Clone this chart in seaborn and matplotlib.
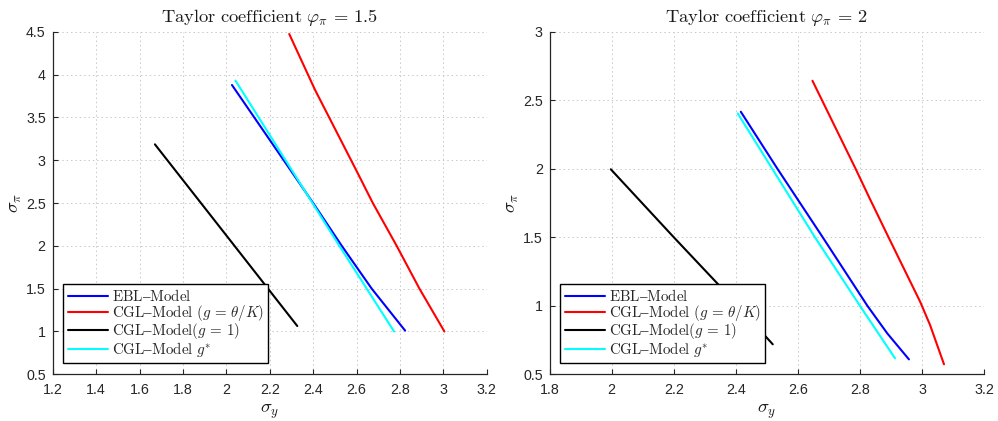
import numpy as np
import pandas as pd
import matplotlib
matplotlib.use("Agg")
import matplotlib.pyplot as plt
import seaborn as sns
from matplotlib.ticker import FuncFormatter, MultipleLocator

sns.set_theme(style="white")
plt.rcParams["font.family"] = ["Liberation Sans", "DejaVu Sans"]
plt.rcParams["mathtext.fontset"] = "cm"

# ---------------- data ----------------
series_names = [r"$\mathrm{EBL{–}Model}$",
                r"$\mathrm{CGL{–}Model}\ (g\,=\,\theta/K)$",
                r"$\mathrm{CGL{–}Model}(g\,=\,1)$",
                r"$\mathrm{CGL{–}Model}\ g^{*}$"]
series_colors = ["#0000ff", "#ff0000", "#000000", "#00ffff"]

# Panel 1: Taylor coefficient 1.5
p1_ebl_x = [2.026, 2.400, 2.532, 2.670, 2.824]
p1_ebl_y = [3.878, 2.500, 2.000, 1.500, 1.010]
p1_cgl_theta_x = [2.290, 2.409, 2.598, 2.675, 2.785, 2.890, 3.005]
p1_cgl_theta_y = [4.473, 3.820, 2.886, 2.500, 2.000, 1.500, 1.000]
p1_cgl_one_x = [1.671, 2.000, 2.327]
p1_cgl_one_y = [3.185, 2.122, 1.064]
p1_cgl_star_x = [2.042, 2.397, 2.521, 2.647, 2.773]
p1_cgl_star_y = [3.930, 2.500, 2.000, 1.500, 1.000]

# Panel 2: Taylor coefficient 2
p2_ebl_x = [2.416, 2.534, 2.680, 2.824, 2.888, 2.958]
p2_ebl_y = [2.416, 2.000, 1.500, 1.000, 0.799, 0.609]
p2_cgl_theta_x = [2.647, 2.786, 2.830, 2.890, 2.994, 3.026, 3.071]
p2_cgl_theta_y = [2.642, 2.000, 1.790, 1.510, 1.030, 0.860, 0.573]
p2_cgl_one_x = [1.997, 2.200, 2.350, 2.519]
p2_cgl_one_y = [1.996, 1.500, 1.140, 0.719]
p2_cgl_star_x = [2.406, 2.655, 2.800, 2.913]
p2_cgl_star_y = [2.404, 1.500, 1.000, 0.617]

titles = [r"$\mathrm{Taylor\ coefficient}\ \varphi_{\pi}\,=\,1.5$",
          r"$\mathrm{Taylor\ coefficient}\ \varphi_{\pi}\,=\,2$"]
xlims = [(1.2, 3.2), (1.8, 3.2)]
ylims = [(0.5, 4.5), (0.5, 3.0)]
xsteps = [0.2, 0.2]
ysteps = [0.5, 0.5]

panels = [
    [(p1_ebl_x, p1_ebl_y), (p1_cgl_theta_x, p1_cgl_theta_y),
     (p1_cgl_one_x, p1_cgl_one_y), (p1_cgl_star_x, p1_cgl_star_y)],
    [(p2_ebl_x, p2_ebl_y), (p2_cgl_theta_x, p2_cgl_theta_y),
     (p2_cgl_one_x, p2_cgl_one_y), (p2_cgl_star_x, p2_cgl_star_y)],
]

fig = plt.figure(figsize=(9.98, 4.21), dpi=100)
axes_pos = [[0.0528, 0.1109, 0.4349, 0.8138],
            [0.5508, 0.1109, 0.4352, 0.8138]]

fmt = FuncFormatter(lambda v, p: "%g" % round(v, 6))
axis_col = "#262626"

for i, pdata in enumerate(panels):
    ax = fig.add_axes(axes_pos[i])
    for j, (xs, ys) in enumerate(pdata):
        df = pd.DataFrame({"x": xs, "y": ys})
        sns.lineplot(data=df, x="x", y="y", sort=False, estimator=None,
                     color=series_colors[j], linewidth=1.5,
                     label=series_names[j], ax=ax, legend=False)
    ax.set_xlim(*xlims[i])
    ax.set_ylim(*ylims[i])
    ax.xaxis.set_major_locator(MultipleLocator(xsteps[i]))
    ax.yaxis.set_major_locator(MultipleLocator(ysteps[i]))
    ax.xaxis.set_major_formatter(fmt)
    ax.yaxis.set_major_formatter(fmt)
    ax.grid(True, linestyle=(0, (1.5, 3)), linewidth=0.7, color="#c8c8c8")
    ax.set_axisbelow(True)
    for s in ["top", "right"]:
        ax.spines[s].set_visible(False)
    for s in ["left", "bottom"]:
        ax.spines[s].set_color(axis_col)
        ax.spines[s].set_linewidth(0.9)
    ax.tick_params(axis="both", direction="in", length=3.5, width=0.8,
                   colors=axis_col, labelsize=10.3, bottom=True, left=True)
    ax.tick_params(axis="x", pad=6)
    ax.tick_params(axis="y", pad=5)
    ax.set_xlabel(r"$\sigma_y$", fontsize=13.5, labelpad=4, color="#1a1a1a")
    ax.set_ylabel(r"$\sigma_\pi$", fontsize=13.5, labelpad=2, color="#1a1a1a")
    ax.set_title(titles[i], fontsize=13.3, pad=7, color="#1a1a1a")
    leg = ax.legend(loc="lower left", bbox_to_anchor=(0.024, 0.032),
                    borderaxespad=0, fontsize=10.8, frameon=True,
                    fancybox=False, framealpha=1, edgecolor="black",
                    handlelength=2.7, handletextpad=0.25, labelspacing=-0.1,
                    borderpad=0.3)
    leg.get_frame().set_linewidth(1.0)

fig.savefig("out.png", dpi=100)
